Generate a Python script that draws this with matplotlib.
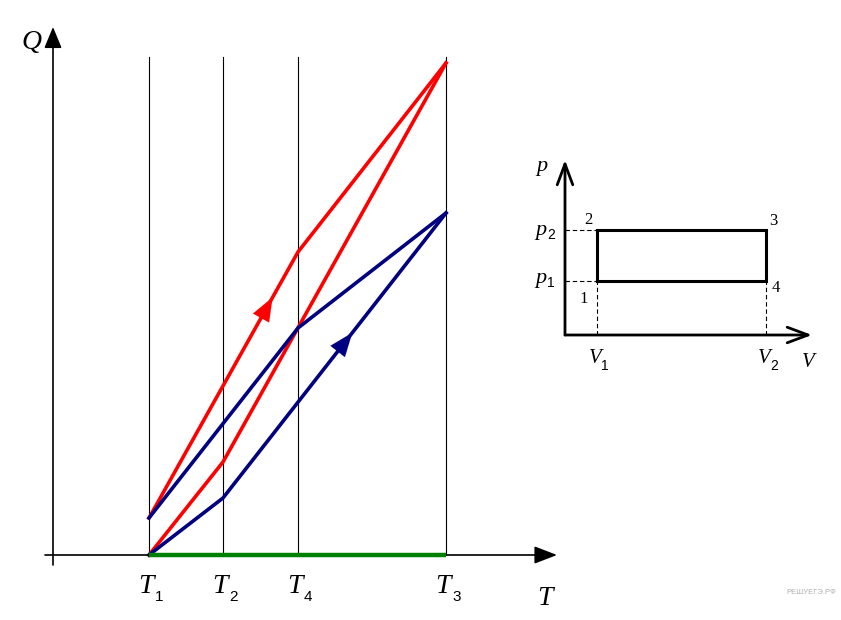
import numpy as np
import matplotlib.pyplot as plt

# Temperatures marked on the T axis (arbitrary units)
T_names = ['1', '2', '4', '3']
T_vals = [9.6, 17.0, 24.5, 39.3]

# Q(T) curves
red_upper_T = [9.6, 24.5, 39.3]
red_upper_Q = [3.7, 30.3, 49.2]
red_lower_T = [9.6, 17.0, 39.3]
red_lower_Q = [0.0, 9.3, 49.2]
blue_upper_T = [9.6, 24.5, 39.3]
blue_upper_Q = [3.7, 22.7, 34.2]
blue_lower_T = [9.6, 17.0, 39.3]
blue_lower_Q = [0.0, 5.7, 34.2]

# p-V inset cycle 1-2-3-4
V1, V2 = 3.2, 20.1
p1, p2 = 5.4, 10.5
cycle_V = [V1, V1, V2, V2, V1]
cycle_p = [p1, p2, p2, p1, p1]

serif_it = dict(family='Liberation Serif', style='italic')
serif = dict(family='Liberation Serif')
sans = dict(family='Liberation Sans')


def arrow_on(ax, xs, ys, seg, frac, color, back=0.07):
    # arrow head placed along segment `seg` at fraction `frac`
    x0, y0, x1, y1 = xs[seg], ys[seg], xs[seg + 1], ys[seg + 1]
    tip = (x0 + frac * (x1 - x0), y0 + frac * (y1 - y0))
    base = (x0 + (frac - back) * (x1 - x0), y0 + (frac - back) * (y1 - y0))
    ax.annotate('', xy=tip, xytext=base,
                arrowprops=dict(arrowstyle='-|>,head_length=0.85,head_width=0.33',
                                mutation_scale=20, color=color, lw=0.1,
                                shrinkA=0, shrinkB=0))


fig = plt.figure(figsize=(8.41, 6.2), dpi=100)
ax = fig.add_axes([0, 0, 1, 1])
ax.set_xlim(-5.3, 78.8)
ax.set_ylim(-6.5, 55.5)
ax.axis('off')

# axes with arrows
ax.annotate('', xy=(0, 52.8), xytext=(0, -1.0),
            arrowprops=dict(arrowstyle='-|>,head_length=0.65,head_width=0.27',
                            mutation_scale=20, color='black', lw=1.2,
                            shrinkA=0, shrinkB=0))
ax.annotate('', xy=(50.4, 0), xytext=(-0.8, 0),
            arrowprops=dict(arrowstyle='-|>,head_length=0.7,head_width=0.27',
                            mutation_scale=20, color='black', lw=1.2,
                            shrinkA=0, shrinkB=0))

for tv in T_vals:
    ax.plot([tv, tv], [0, 49.8], color='black', lw=0.8)

ax.plot(red_upper_T, red_upper_Q, color='#ff0000', lw=2.6, solid_joinstyle='miter')
ax.plot(red_lower_T, red_lower_Q, color='#ff0000', lw=2.6, solid_joinstyle='miter')
ax.plot(blue_upper_T, blue_upper_Q, color='#000080', lw=2.6, solid_joinstyle='miter')
ax.plot(blue_lower_T, blue_lower_Q, color='#000080', lw=2.6, solid_joinstyle='miter')
ax.plot([T_vals[0], T_vals[-1]], [0, 0], color='#008000', lw=3.2,
        solid_capstyle='butt', zorder=4)

arrow_on(ax, red_upper_T, red_upper_Q, 0, 0.83, '#ff0000')
arrow_on(ax, blue_lower_T, blue_lower_Q, 1, 0.58, '#000080')

# labels
ax.text(-2.2, 50.6, 'Q', fontsize=20, ha='center', va='baseline', **serif_it)
for name, tv in zip(T_names, T_vals):
    ax.text(tv - 0.3, -3.8, 'T', fontsize=20, ha='center', va='baseline', **serif_it)
    ax.text(tv + 0.6, -4.6, name, fontsize=11, ha='left', va='baseline', **sans)
ax.text(49.2, -5.0, 'T', fontsize=20, ha='center', va='baseline', **serif_it)
ax.text(78.3, -3.9, 'РЕШУЕГЭ.РФ', fontsize=5.5, color='#b0b0b0', ha='right',
        va='baseline', **sans)

# inset p-V diagram
ins = fig.add_axes([520 / 841, (620 - 380) / 620, 320 / 841, 230 / 620])
ins.set_xlim(-4.5, 27.5)
ins.set_ylim(-4.5, 18.5)
ins.axis('off')

chev = dict(arrowstyle='->,head_length=0.75,head_width=0.28', mutation_scale=20,
            color='black', lw=2.0, shrinkA=0, shrinkB=0)
ins.annotate('', xy=(0, 17.5), xytext=(0, 0), arrowprops=chev)
ins.annotate('', xy=(24.7, 0), xytext=(0, 0), arrowprops=chev)

ins.plot(cycle_V, cycle_p, color='black', lw=2.2, solid_joinstyle='miter')
dash = dict(color='black', lw=0.8, ls=(0, (4, 2.5)))
ins.plot([0, V1], [p2, p2], **dash)
ins.plot([0, V1], [p1, p1], **dash)
ins.plot([V1, V1], [0, p1], **dash)
ins.plot([V2, V2], [0, p1], **dash)

ins.text(-2.3, 16.4, 'p', fontsize=16, ha='center', va='baseline', **serif_it)
ins.text(-2.4, 10.0, 'p', fontsize=16, ha='center', va='baseline', **serif_it)
ins.text(-1.8, 9.6, '2', fontsize=10, ha='left', va='baseline', **sans)
ins.text(-2.4, 5.2, 'p', fontsize=16, ha='center', va='baseline', **serif_it)
ins.text(-1.8, 4.8, '1', fontsize=10, ha='left', va='baseline', **sans)

ins.text(2.3, 11.1, '2', fontsize=12, ha='center', va='baseline', **serif)
ins.text(20.8, 11.0, '3', fontsize=12, ha='center', va='baseline', **serif)
ins.text(1.9, 3.2, '1', fontsize=12, ha='center', va='baseline', **serif)
ins.text(21.1, 4.3, '4', fontsize=12, ha='center', va='baseline', **serif)

ins.text(V1 - 0.2, -2.8, 'V', fontsize=15, ha='center', va='baseline', **serif_it)
ins.text(V1 + 0.4, -3.5, '1', fontsize=10, ha='left', va='baseline', **sans)
ins.text(V2 - 0.2, -2.8, 'V', fontsize=15, ha='center', va='baseline', **serif_it)
ins.text(V2 + 0.4, -3.5, '2', fontsize=10, ha='left', va='baseline', **sans)
ins.text(24.3, -3.2, 'V', fontsize=15, ha='center', va='baseline', **serif_it)

fig.savefig('out.png', dpi=100, facecolor='white')
